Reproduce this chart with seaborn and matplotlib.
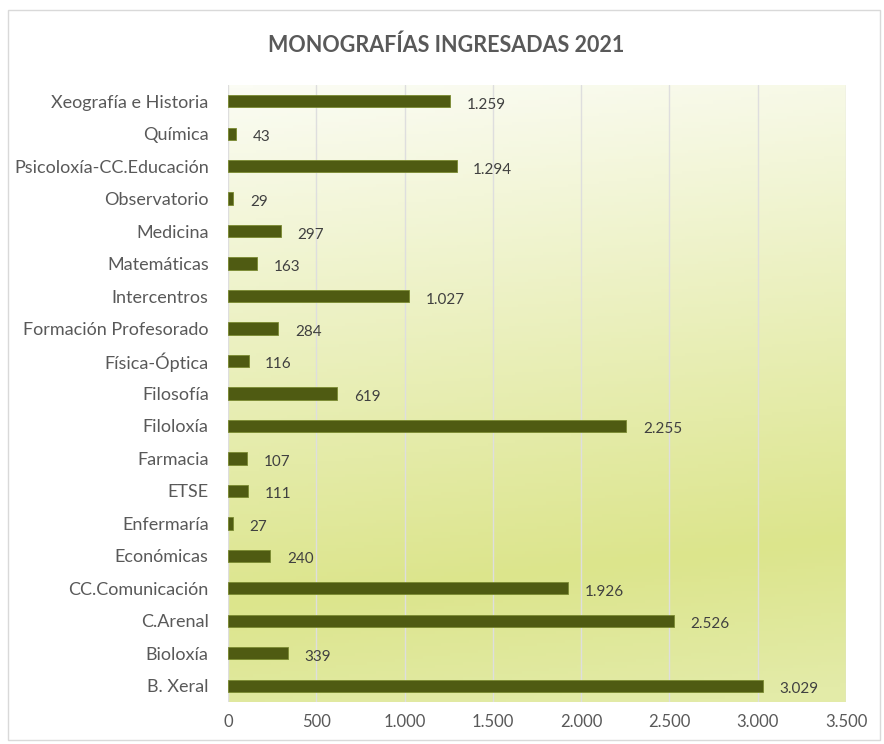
import numpy as np
import pandas as pd
import matplotlib
matplotlib.use("Agg")
import matplotlib.pyplot as plt
from matplotlib.colors import LinearSegmentedColormap
from matplotlib.patches import Rectangle
import seaborn as sns

# Data (top to bottom as shown in the chart)
centros = [
    "Xeografía e Historia", "Química", "Psicoloxía-CC.Educación", "Observatorio",
    "Medicina", "Matemáticas", "Intercentros", "Formación Profesorado",
    "Física-Óptica", "Filosofía", "Filoloxía", "Farmacia", "ETSE", "Enfermaría",
    "Económicas", "CC.Comunicación", "C.Arenal", "Bioloxía", "B. Xeral",
]
monografias = [1259, 43, 1294, 29, 297, 163, 1027, 284, 116, 619,
               2255, 107, 111, 27, 240, 1926, 2526, 339, 3029]
xticks = [0, 500, 1000, 1500, 2000, 2500, 3000, 3500]

def fmt_es(v):
    return f"{v:,}".replace(",", ".")

df = pd.DataFrame({"centro": centros, "monografias": monografias})

sns.set_style("white")
plt.rcParams["font.family"] = ["Lato", "DejaVu Sans"]
text_col = "#595959"
bar_col = "#4F5B12"

fig = plt.figure(figsize=(8.84, 7.44), dpi=100)
ax = fig.add_axes([0.258, 0.0565, 0.699, 0.8293])

# gradient background of the plot area
grad_cmap = LinearSegmentedColormap.from_list(
    "fondo", [(0.0, "#FBFCF4"), (0.78, "#DCE58C"), (1.0, "#E3EBA8")])
yy, xx = np.mgrid[0:1:200j, 0:1:200j]
t = np.clip(0.92 * yy + 0.1 * xx, 0, 1)
ax.imshow(t, cmap=grad_cmap, vmin=0, vmax=1, aspect="auto",
          extent=[0, 1, 0, 1], transform=ax.transAxes, zorder=0,
          origin="upper")

sns.barplot(data=df, x="monografias", y="centro", orient="h", color=bar_col,
            width=0.38, saturation=1, edgecolor="#7A8A30", linewidth=0.6,
            ax=ax, zorder=3)

ax.bar_label(ax.containers[0], labels=[fmt_es(v) for v in monografias],
             padding=12, fontsize=11, color="#404040")
# labels sit slightly below the bar centre, as in Excel
for t_ in ax.texts:
    x0, y0 = t_.xyann
    t_.xyann = (x0, y0 - 2.5)

ax.set_xlim(0, 3500)
ax.set_xticks(xticks)
ax.set_xticklabels([fmt_es(v) for v in xticks])
ax.grid(axis="x", color="#DEDEDE", linewidth=1, zorder=1)
ax.set_axisbelow(True)
for s in ax.spines.values():
    s.set_visible(False)
ax.tick_params(axis="both", length=0, labelcolor=text_col)
ax.tick_params(axis="y", pad=14, labelsize=13)
ax.tick_params(axis="x", pad=9, labelsize=12)
ax.set_xlabel("")
ax.set_ylabel("")

fig.text(0.505, 0.9395, "MONOGRAFÍAS INGRESADAS 2021", ha="center", va="center",
         fontsize=15.5, fontweight="bold", color=text_col)

# chart border
fig.patches.append(Rectangle((0.009, 0.005), 0.986, 0.982, transform=fig.transFigure,
                             fill=False, edgecolor="#D9D9D9", linewidth=1))

fig.savefig("out.png", dpi=100)
